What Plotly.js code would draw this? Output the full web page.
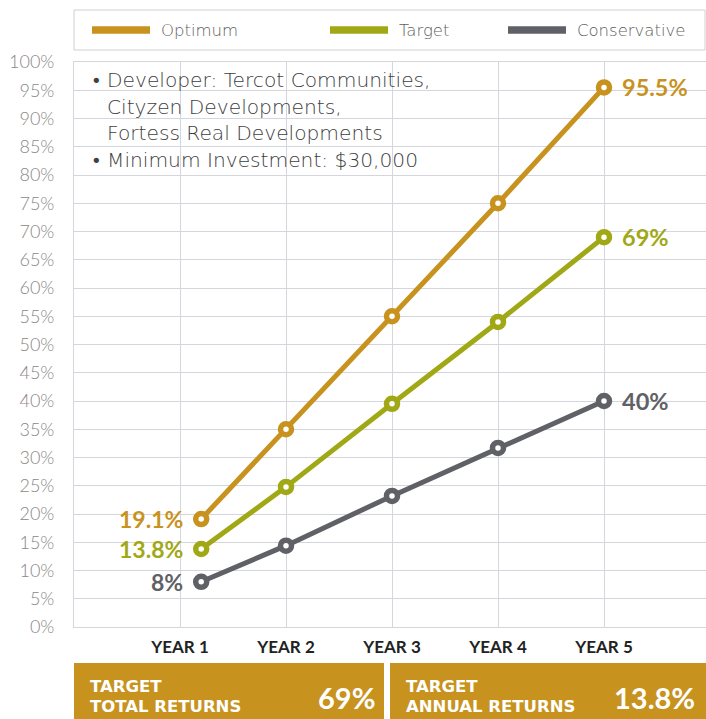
<!DOCTYPE html>
<html>
<head>
<meta charset="utf-8">
<script src="https://cdn.plot.ly/plotly-3.0.1.min.js"></script>
<style>
html,body{margin:0;padding:0;background:#fff;}
#chart{width:706px;height:719px;}
</style>
</head>
<body>
<div id="chart"></div>
<script>
// ---- data ----
const categories = ['YEAR 1', 'YEAR 2', 'YEAR 3', 'YEAR 4', 'YEAR 5'];
const xPos = [1.2, 2, 3, 4, 5];
const seriesNames = ['Optimum', 'Target', 'Conservative'];
const optimum = [19.1, 35, 55, 75, 95.5];
const target = [13.8, 24.8, 39.5, 54, 69];
const conservative = [8, 14.4, 23.2, 31.7, 40];
const yTickVals = [0, 5, 10, 15, 20, 25, 30, 35, 40, 45, 50, 55, 60, 65, 70, 75, 80, 85, 90, 95, 100];
const yTickText = yTickVals.map(v => v + '%');
const startLabels = ['19.1%', '13.8%', '8%'];
const endLabels = ['95.5%', '69%', '40%'];
const infoLines = ['Developer: Tercot Communities,', 'Cityzen Developments,', 'Fortess Real Developments', 'Minimum Investment: $30,000'];
const summary = [
  {line1: 'TARGET', line2: 'TOTAL RETURNS', value: '69%'},
  {line1: 'TARGET', line2: 'ANNUAL RETURNS', value: '13.8%'}
];

// ---- style ----
const colors = ['#C8921E', '#A1A815', '#5F6166'];
const gridColor = '#D5D5DD';
const FONT = 'Lato, "Open Sans", sans-serif';
const WIDE = '"DejaVu Sans", Lato, sans-serif';

// layout geometry helpers (pixels -> paper)
const L = 74, T = 62, W = 632, H = 565;
const px = x => (x - L) / W;
const py = y => (T + H - y) / H;

const allSeries = [optimum, target, conservative];

const traces = allSeries.map((vals, i) => ({
  type: 'scatter',
  mode: 'lines+markers',
  name: seriesNames[i],
  x: xPos,
  y: vals,
  showlegend: false,
  line: {color: colors[i], width: 5},
  marker: {symbol: 'circle', size: 11, color: '#ffffff', line: {color: colors[i], width: 5.5}},
  hoverinfo: 'skip'
}));

const shapes = [];
const annotations = [];

// value labels at start and end
allSeries.forEach((vals, i) => {
  annotations.push({
    x: xPos[0], y: vals[0], xref: 'x', yref: 'y',
    text: startLabels[i], showarrow: false, xanchor: 'right', yanchor: 'middle',
    xshift: -16, font: {family: FONT, size: 23, color: colors[i], weight: 700}
  });
  annotations.push({
    x: xPos[xPos.length - 1], y: vals[vals.length - 1], xref: 'x', yref: 'y',
    text: endLabels[i], showarrow: false, xanchor: 'left', yanchor: 'middle',
    xshift: 16, font: {family: FONT, size: 23.5, color: colors[i], weight: 700}
  });
});

// legend box + items
shapes.push({type: 'rect', xref: 'paper', yref: 'paper', x0: px(74), x1: px(705), y0: py(50), y1: py(10),
  line: {color: '#D0D0D0', width: 1}, fillcolor: '#ffffff', layer: 'above'});
const legendLineX = [92, 330, 508];
seriesNames.forEach((n, i) => {
  shapes.push({type: 'line', xref: 'paper', yref: 'paper', x0: px(legendLineX[i]), x1: px(legendLineX[i] + 58),
    y0: py(30), y1: py(30), line: {color: colors[i], width: 7.5}, layer: 'above'});
  annotations.push({xref: 'paper', yref: 'paper', x: px(legendLineX[i] + 67), y: py(30), text: n,
    showarrow: false, xanchor: 'left', yanchor: 'middle',
    font: {family: WIDE, size: 16.5, color: '#5E5E5E', weight: 200}});
});

// info box (white background behind text lines)
const infoRects = [[63, 104, 446], [104, 132, 448], [132, 160, 432], [160, 178, 422]];
infoRects.forEach(r => {
  shapes.push({type: 'rect', xref: 'paper', yref: 'paper', x0: px(80), x1: px(r[2]), y0: py(r[1]), y1: py(r[0]),
    line: {width: 0}, fillcolor: '#ffffff', layer: 'between'});
});
const infoY = [80, 106.5, 133, 160];
infoLines.forEach((t, i) => {
  annotations.push({xref: 'paper', yref: 'paper', x: px(105), y: py(infoY[i]), text: t,
    showarrow: false, xanchor: 'left', yanchor: 'middle',
    font: {family: WIDE, size: 20.2, color: '#404040', weight: 200}});
});
[0, 3].forEach(i => {
  annotations.push({xref: 'paper', yref: 'paper', x: px(89), y: py(infoY[i]), text: '•',
    showarrow: false, xanchor: 'left', yanchor: 'middle',
    font: {family: WIDE, size: 18, color: '#404040'}});
});

// summary boxes below chart
const boxX = [[74, 384, 88, 377], [390, 706, 404, 697]];
summary.forEach((s, i) => {
  const b = boxX[i];
  shapes.push({type: 'rect', xref: 'paper', yref: 'paper', x0: px(b[0]), x1: px(b[1]), y0: py(719), y1: py(663),
    line: {width: 0}, fillcolor: colors[0], layer: 'above'});
  annotations.push({xref: 'paper', yref: 'paper', x: px(b[2]), y: py(686.5), text: s.line1, showarrow: false,
    xanchor: 'left', yanchor: 'middle',
    font: {family: WIDE, size: 16.5, color: '#ffffff', weight: 700}});
  annotations.push({xref: 'paper', yref: 'paper', x: px(b[2]), y: py(706.5), text: s.line2, showarrow: false,
    xanchor: 'left', yanchor: 'middle',
    font: {family: WIDE, size: 16.5, color: '#ffffff', weight: 700}});
  annotations.push({xref: 'paper', yref: 'paper', x: px(b[3]), y: py(697), text: s.value, showarrow: false,
    xanchor: 'right', yanchor: 'middle', font: {family: FONT, size: 29, color: '#ffffff', weight: 700}});
});

const layout = {
  width: 706, height: 719,
  margin: {l: L, r: 706 - L - W, t: T, b: 719 - T - H, pad: 0},
  paper_bgcolor: '#ffffff', plot_bgcolor: '#ffffff',
  showlegend: false,
  xaxis: {
    range: [0, W / 106], tickvals: [1, 2, 3, 4, 5], ticktext: categories,
    showgrid: true, gridcolor: gridColor, gridwidth: 1, zeroline: false,
    showline: true, linecolor: gridColor, linewidth: 1, mirror: true, ticks: '',
    ticklabelstandoff: 5,
    tickfont: {family: FONT, size: 17, color: '#222222', weight: 700}, fixedrange: true
  },
  yaxis: {
    range: [0, 100], tickvals: yTickVals, ticktext: yTickText,
    showgrid: true, gridcolor: gridColor, gridwidth: 1, zeroline: false,
    showline: true, linecolor: gridColor, linewidth: 1, ticks: '',
    ticklabelstandoff: 15, ticklabelshift: 0,
    tickfont: {family: FONT, size: 18, color: '#888888', weight: 300}, fixedrange: true
  },
  shapes: shapes,
  annotations: annotations
};

Plotly.newPlot('chart', traces, layout, {displayModeBar: false, staticPlot: true});
</script>
</body>
</html>
